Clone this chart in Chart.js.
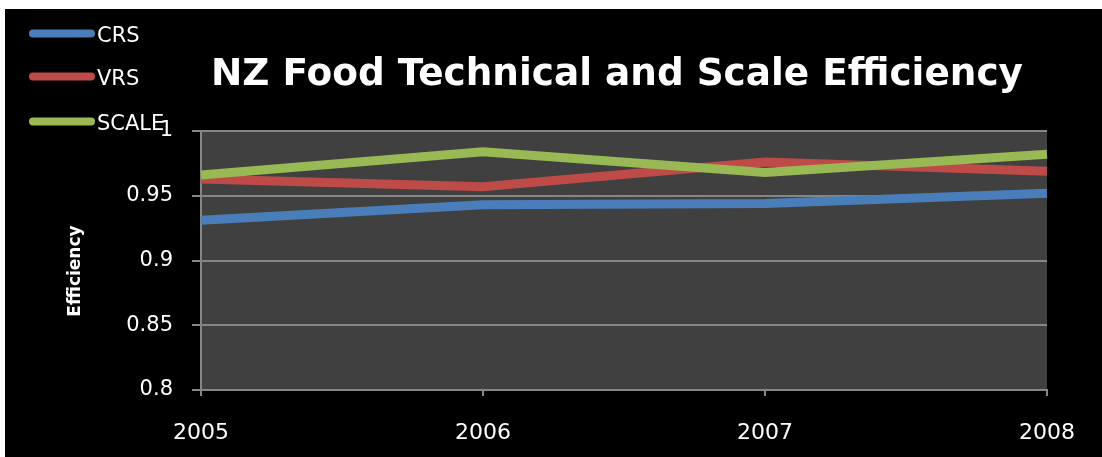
<!DOCTYPE html>
<html>
<head>
<meta charset="utf-8">
<title>NZ Food Technical and Scale Efficiency</title>
<script src="https://cdn.jsdelivr.net/npm/chart.js@4.4.1/dist/chart.umd.min.js"></script>
<style>
  html, body { margin: 0; padding: 0; background: #fff; }
  #wrap { position: absolute; left: 5px; top: 9px; width: 1097px; height: 448px; background: #000; }
</style>
</head>
<body>
<div id="wrap"><canvas id="eff-chart"></canvas></div>
<script>
const years = ['2005', '2006', '2007', '2008'];
const crs = [0.931, 0.943, 0.944, 0.952];
const vrs = [0.963, 0.957, 0.976, 0.969];
const scaleEff = [0.966, 0.984, 0.968, 0.982];
const yTickLabels = ['0.8', '0.85', '0.9', '0.95', '1'];

const chartTitle = 'NZ Food Technical and Scale Efficiency';
const axisTitle = 'Efficiency';

Chart.defaults.font.family = '"DejaVu Sans", sans-serif';
Chart.defaults.color = '#fff';

// grey plot background, heading, rotated axis title and the legend in the top-left corner
const decorations = {
    id: 'decorations',
    beforeDraw(chart) {
        const {ctx, chartArea} = chart;
        ctx.save();
        ctx.fillStyle = '#404040';
        ctx.fillRect(chartArea.left, chartArea.top, chartArea.right - chartArea.left, chartArea.bottom - chartArea.top);
        ctx.restore();
    },
    afterDraw(chart) {
        const ctx = chart.ctx;
        ctx.save();
        ctx.fillStyle = '#fff';

        ctx.font = 'bold 37.4px "DejaVu Sans"';
        ctx.textAlign = 'center';
        ctx.textBaseline = 'alphabetic';
        ctx.fillText(chartTitle, 612, 76);

        ctx.save();
        ctx.font = 'bold 17px "DejaVu Sans"';
        ctx.translate(75, 262);
        ctx.rotate(-Math.PI / 2);
        ctx.fillText(axisTitle, 0, 0);
        ctx.restore();

        // legend
        ctx.font = '21px "DejaVu Sans"';
        ctx.textAlign = 'left';
        const rows = [24.5, 67.5, 112.5];
        chart.data.datasets.forEach((ds, i) => {
            const y = rows[i];
            ctx.strokeStyle = ds.borderColor;
            ctx.lineWidth = 8;
            ctx.lineCap = 'round';
            ctx.beginPath();
            ctx.moveTo(28, y);
            ctx.lineTo(86, y);
            ctx.stroke();
            ctx.fillStyle = '#fff';
            ctx.fillText(ds.label, 92, y + 8);
        });
        ctx.restore();
    }
};

new Chart(document.getElementById('eff-chart'), {
    type: 'line',
    data: {
        labels: years,
        datasets: [
            { label: 'CRS', data: crs, borderColor: '#4A7EBB', order: 3 },
            { label: 'VRS', data: vrs, borderColor: '#BE4B48', order: 2 },
            { label: 'SCALE', data: scaleEff, borderColor: '#98B954', order: 1 }
        ]
    },
    options: {
        responsive: true,
        maintainAspectRatio: false,
        animation: false,
        layout: { padding: { top: 122, right: 55, bottom: 0, left: 0 } },
        elements: {
            line: { borderWidth: 9, tension: 0, borderCapStyle: 'butt', borderJoinStyle: 'miter' },
            point: { radius: 0, hoverRadius: 0 }
        },
        plugins: {
            legend: { display: false },
            title: { display: false },
            tooltip: { enabled: false }
        },
        scales: {
            x: {
                offset: false,
                grid: { drawOnChartArea: false, drawTicks: true, tickLength: 6, color: '#868686', lineWidth: 2 },
                border: { color: '#868686', width: 2 },
                ticks: { font: { size: 22 }, color: '#fff', padding: 24, maxRotation: 0 },
                afterFit(scale) { scale.height = 67; }
            },
            y: {
                min: 0.8,
                max: 1,
                grid: { color: '#868686', lineWidth: 2, tickLength: 9 },
                border: { color: '#868686', width: 2 },
                ticks: {
                    stepSize: 0.05,
                    font: { size: 21 },
                    color: '#fff',
                    padding: 19,
                    callback: (v, i) => yTickLabels[i]
                },
                afterFit(scale) { scale.width = 196; }
            }
        }
    },
    plugins: [decorations]
});
</script>
</body>
</html>
